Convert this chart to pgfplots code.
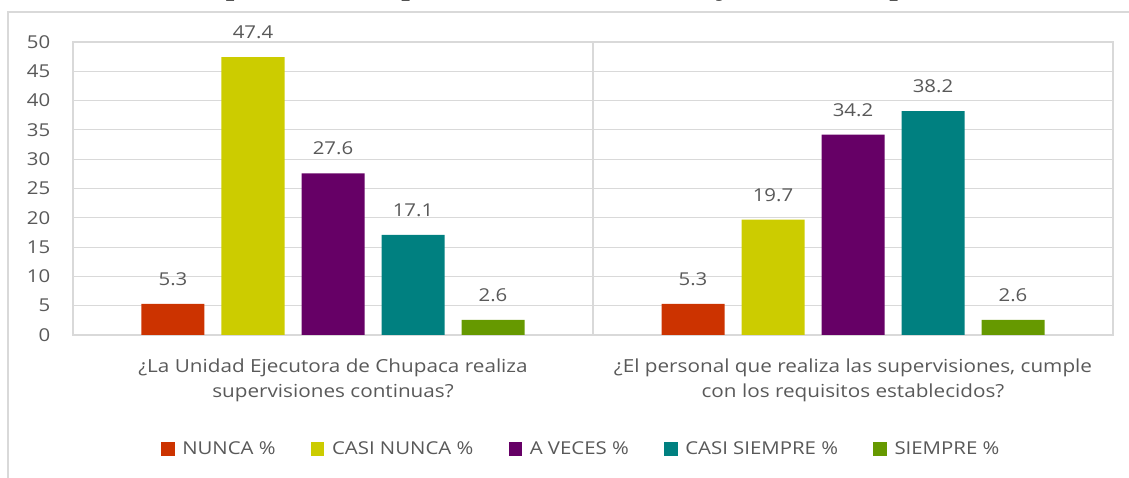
\documentclass[border=0pt]{standalone}
\usepackage{fontspec}
\setmainfont{Open Sans}[FakeStretch=1.15]
\newfontfamily\titlefont{Liberation Serif}[FakeStretch=1.15]
\usepackage{pgfplots}
\pgfplotsset{compat=1.18}
\definecolor{cnunca}{HTML}{CC3300}
\definecolor{ccasinunca}{HTML}{CCCC00}
\definecolor{caveces}{HTML}{660066}
\definecolor{ccasisiempre}{HTML}{008080}
\definecolor{csiempre}{HTML}{669900}
\definecolor{textgray}{HTML}{595959}
\definecolor{gridgray}{HTML}{D9D9D9}
\begin{document}
\begin{tikzpicture}[x=0.75pt,y=0.75pt]
\useasboundingbox (0,0) rectangle (1129,478);
\draw[gridgray, line width=1.1pt] (8,-5) -- (8,466) -- (1140,466);
\node[font=\titlefont\bfseries\fontsize{20}{24}\selectfont, anchor=base west, inner sep=0pt] at (401,482) {\llap{Gráfico: Supervisión del }personal de la Unidad Ejecutora Chupaca, \%};
\begin{axis}[
  at={(54.75pt,107.25pt)}, anchor=south west,
  scale only axis, width=780pt, height=219.75pt,
  ybar=12.75pt, bar width=47.25pt,
  xmin=-0.5, xmax=1.5, ymin=0, ymax=50,
  xtick={0,1},
  xticklabels={{¿La Unidad Ejecutora de Chupaca realiza\\supervisiones continuas?},{¿El personal que realiza las supervisiones, cumple\\con los requisitos establecidos?}},
  xticklabel style={align=center, font=\fontsize{13.5}{19}\selectfont, text=textgray, yshift=-10pt},
  ytick={0,5,...,50},
  yticklabel style={font=\fontsize{13.3}{15}\selectfont, text=textgray, xshift=-13.5pt},
  /pgf/number format/assume math mode=true,
  tick style={draw=none},
  ymajorgrids, major grid style={gridgray, line width=0.8pt},
  extra x ticks={0.5}, extra x tick labels={},
  extra x tick style={grid=major, tick style={draw=none}},
  axis line style={gridgray, line width=0.8pt},
  nodes near coords={\pgfmathprintnumber[fixed,fixed zerofill,precision=1,assume math mode=true]{\pgfplotspointmeta}},
  every node near coord/.append style={font=\fontsize{13.3}{15}\selectfont, text=textgray, inner sep=2pt, yshift=11.5pt},
  legend columns=-1,
  legend style={draw=none, at={(0.489,-0.389)}, anchor=center, font=\fontsize{13.3}{15}\selectfont, text=textgray,
    /tikz/every odd column/.append style={column sep=3.75pt},
    /tikz/every even column/.append style={column sep=24.3pt}},
  legend image code/.code={\fill[#1] (0pt,-5.1pt) rectangle (10.2pt,5.1pt);},
]
\addplot[fill=cnunca, draw=none] coordinates {(0,5.3) (1,5.3)};
\addplot[fill=ccasinunca, draw=none] coordinates {(0,47.4) (1,19.7)};
\addplot[fill=caveces, draw=none] coordinates {(0,27.6) (1,34.2)};
\addplot[fill=ccasisiempre, draw=none] coordinates {(0,17.1) (1,38.2)};
\addplot[fill=csiempre, draw=none] coordinates {(0,2.6) (1,2.6)};
\legend{NUNCA \%, CASI NUNCA \%, A VECES \%, CASI SIEMPRE \%, SIEMPRE \%}
\end{axis}
\end{tikzpicture}
\end{document}
